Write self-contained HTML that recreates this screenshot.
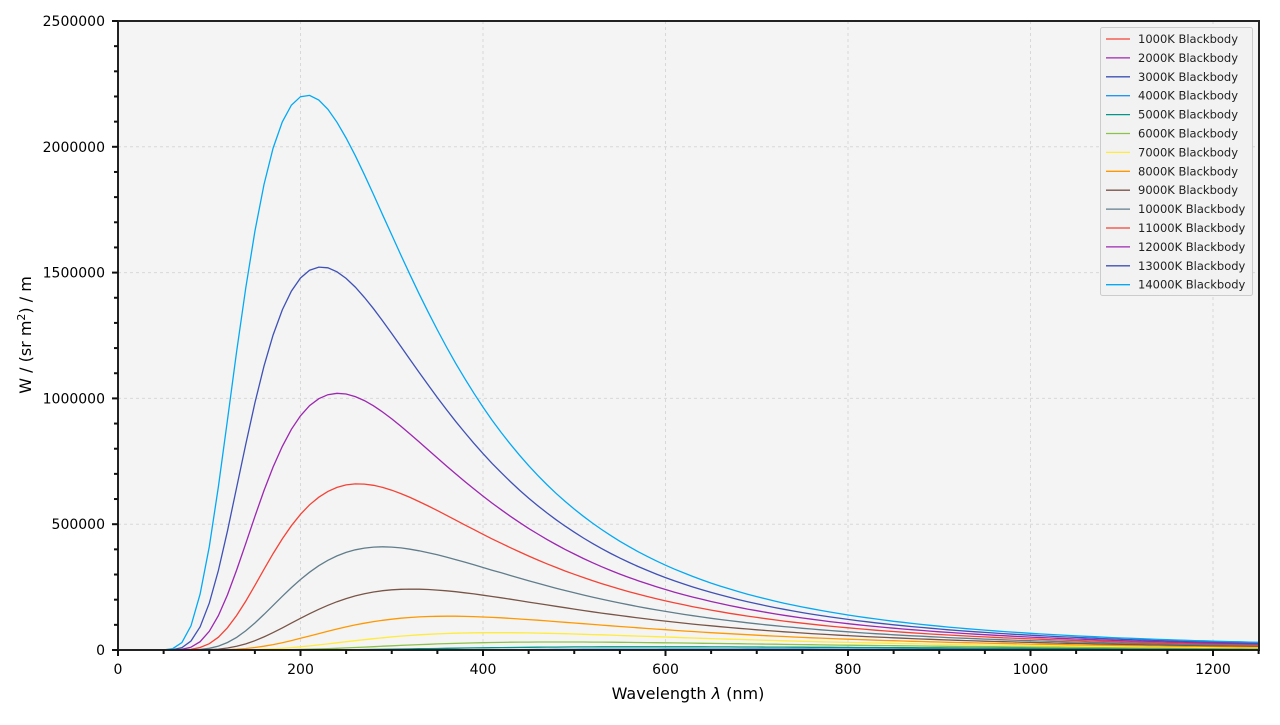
<!DOCTYPE html>
<html><head><meta charset="utf-8"><style>
body{margin:0;background:#fff;}
svg text{font-family:"DejaVu Sans","Liberation Sans",sans-serif;}
</style></head><body>
<svg id="s" width="1280" height="720" xmlns="http://www.w3.org/2000/svg">
<rect x="118" y="21" width="1141" height="629" fill="#f4f4f4"/>
<g id="grid"></g>
<g id="curves"></g>
<rect x="118" y="21" width="1141" height="629" fill="none" stroke="#222" stroke-width="2"/>
<g id="ticks"></g>
<text x="688" y="699" font-size="16" text-anchor="middle">Wavelength <tspan font-style="italic">λ</tspan> (nm)</text>
<text transform="translate(31,335) rotate(-90)" font-size="16" text-anchor="middle">W / (sr m<tspan dy="-6" font-size="11">2</tspan><tspan dy="6">) / m</tspan></text>
<g id="legend"></g>
</svg>
<script>
const X0=118,X1=1258.6,Y0=650,YT=21;
const sx=v=>X0+v*(1213-118)/1200, sy=v=>Y0-v*(Y0-YT)/2.5e6;
const ns="http://www.w3.org/2000/svg";
function el(p,t,a,txt){const e=document.createElementNS(ns,t);for(const k in a)e.setAttribute(k,a[k]);if(txt!=null)e.textContent=txt;document.getElementById(p).appendChild(e);return e;}
for(let v=200;v<=1200;v+=200)el("grid","line",{x1:sx(v),x2:sx(v),y1:YT,y2:Y0,stroke:"#d8d8d8","stroke-dasharray":"3,3","stroke-width":1});
for(let v=5e5;v<2.5e6;v+=5e5)el("grid","line",{x1:X0,x2:1259,y1:sy(v),y2:sy(v),stroke:"#d8d8d8","stroke-dasharray":"3,3","stroke-width":1});
for(let v=0;v<=1250;v+=50){const maj=v%200==0;el("ticks","line",{x1:sx(v),x2:sx(v),y1:Y0,y2:Y0+(maj?6:4),stroke:"#111","stroke-width":2});
 if(maj)el("ticks","text",{x:sx(v),y:674,"font-size":14,"text-anchor":"middle"},v);}
for(let v=0;v<=2.5e6;v+=1e5){const maj=v%5e5==0;el("ticks","line",{x1:X0,x2:X0-(maj?6:4),y1:sy(v),y2:sy(v),stroke:"#111","stroke-width":2});
 if(maj)el("ticks","text",{x:105,y:sy(v)+5,"font-size":14,"text-anchor":"end"},v);}
const cols=["#f44336","#9c27b0","#3f51b5","#2196f3","#009688","#8bc34a","#ffeb3b","#ff9800","#795548","#607d8b","#f44336","#9c27b0","#3f51b5","#03a9f4"];
const h=6.626e-34,c=2.998e8,k=1.381e-23;
cols.forEach((col,i)=>{const T=(i+1)*1000;let pts=[];
 for(let l=10;l<=1250;l+=10){const L=l*1e-9;const B=2*h*c*c/Math.pow(L,5)/(Math.exp(h*c/(L*k*T))-1)*1e-9;pts.push(sx(l).toFixed(1)+","+sy(B).toFixed(1));}
 el("curves","polyline",{points:pts.join(" "),fill:"none",stroke:col,"stroke-width":1.3});
});
el("legend","rect",{x:1100.5,y:27.5,width:152,height:268,fill:"#f2f2f2",stroke:"#ccc",rx:2});
cols.forEach((col,i)=>{const y=39+i*18.9;
 el("legend","line",{x1:1106,x2:1130,y1:y,y2:y,stroke:col,"stroke-width":1.3});
 el("legend","text",{x:1138,y:y+4,"font-size":11.5,fill:"#222"},((i+1)*1000)+"K Blackbody");});
</script>
</body></html>
